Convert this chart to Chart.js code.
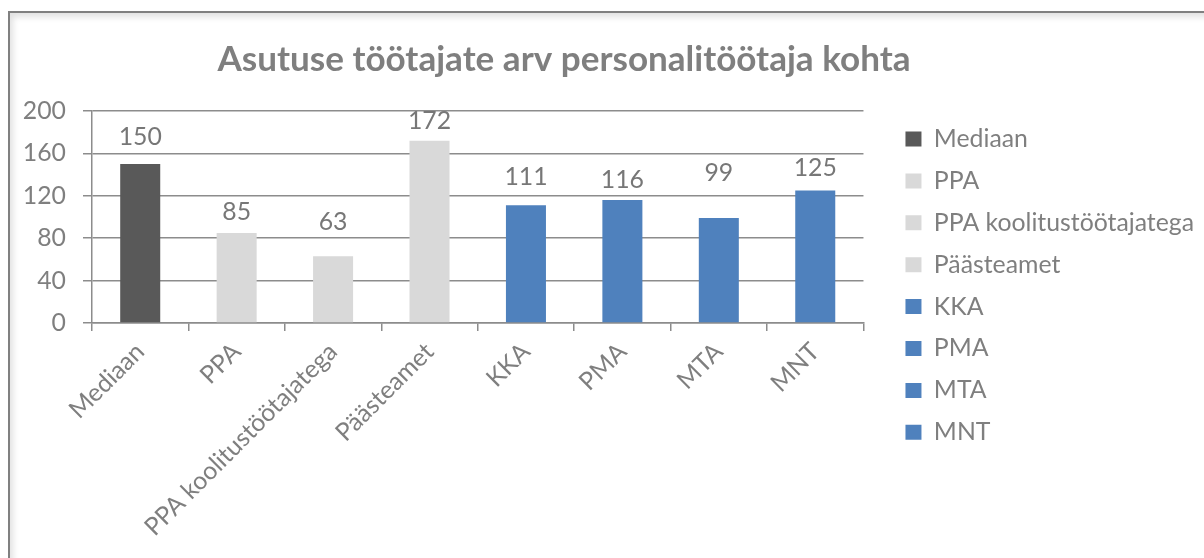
<!DOCTYPE html>
<html>
<head>
<meta charset="utf-8">
<script src="https://cdn.jsdelivr.net/npm/chart.js@4.4.1/dist/chart.umd.min.js"></script>
<style>
    html, body { margin: 0; padding: 0; background: #fff; overflow: hidden; }
    #wrap { position: relative; width: 1204px; height: 558px; }
    #frame {
        position: absolute; left: 8px; top: 11px; width: 1300px; height: 700px;
        border-top: 2px solid #808080; border-left: 2px solid #808080;
        box-shadow: inset 3px 4px 6px rgba(0, 0, 0, 0.12);
        pointer-events: none;
    }
</style>
</head>
<body>
<div id="wrap">
    <canvas id="chart" width="1204" height="558"></canvas>
    <div id="frame"></div>
</div>
<script>
// Andmed
const categories = ["Mediaan", "PPA", "PPA koolitustöötajatega", "Päästeamet", "KKA", "PMA", "MTA", "MNT"];
const values = [150, 85, 63, 172, 111, 116, 99, 125];
const barColors = ["#595959", "#d9d9d9", "#d9d9d9", "#d9d9d9", "#4f81bd", "#4f81bd", "#4f81bd", "#4f81bd"];
const yTicks = [0, 40, 80, 120, 160, 200];
const chartTitle = "Asutuse töötajate arv personalitöötaja kohta";

const FONT = "Lato, 'Open Sans', sans-serif";
const textColor = "#7f7f7f";
const axisColor = "#8c8c8c";

// fondi suurus nii, et tekst saaks antud laiuse (Calibri asemel)
function measure(text, weight, size) {
    const c = document.createElement("canvas").getContext("2d");
    c.font = weight + " " + size + "px " + FONT;
    return c.measureText(text).width;
}
const labelSize = Math.round((1000 * 260) / measure("PPA koolitustöötajatega", "normal", 100)) / 10;
const titleSize = Math.round((1000 * 693) / measure(chartTitle, "bold", 100)) / 10;

// legend: kastid x=904, read 42px vahega, esimene y=139
const legendX = 904;
const legendStep = 41.9;
const legendPad = legendStep - labelSize;
const padTop = Math.max(0, 2 * 139 - 558 + 7 * legendStep);
const longest = Math.max(...categories.map((c) => measure(c, "normal", labelSize)));
const padRight = Math.max(0, Math.floor(1204 - legendX - 16 - labelSize / 2 - longest - 10) - 1);
const padLeft = padRight - 76; // pealkirja keskkoht x=564

const titleTop = 60 - 0.6 * titleSize - padTop;
const titleBottom = 111 - padTop - titleTop - 1.2 * titleSize;

// Väärtused tulpade kohal
const barValueLabels = {
    id: "barValueLabels",
    afterDatasetsDraw(chart, args, opts) {
        const ctx = chart.ctx;
        const meta = chart.getDatasetMeta(0);
        ctx.save();
        ctx.font = labelSize + "px " + FONT;
        ctx.fillStyle = "#777777";
        ctx.textAlign = "center";
        ctx.textBaseline = "middle";
        meta.data.forEach((bar, i) => {
            ctx.fillText(values[i], bar.x, bar.y - opts.lift[i]);
        });
        ctx.restore();
    },
};

new Chart(document.getElementById("chart").getContext("2d"), {
    type: "bar",
    data: {
        labels: categories,
        datasets: [
            {
                data: values,
                backgroundColor: barColors,
                barPercentage: 0.415,
                categoryPercentage: 1,
            },
        ],
    },
    options: {
        responsive: false,
        animation: false,
        layout: { padding: { left: padLeft, right: padRight, top: padTop, bottom: 0 } },
        plugins: {
            title: {
                display: true,
                text: chartTitle,
                color: textColor,
                font: { family: FONT, size: titleSize, weight: "bold" },
                padding: { top: titleTop, bottom: titleBottom },
            },
            legend: {
                position: "right",
                align: "center",
                maxWidth: 420,
                labels: {
                    boxWidth: 16,
                    boxHeight: 15,
                    padding: legendPad,
                    color: textColor,
                    font: { family: FONT, size: labelSize },
                    generateLabels: () =>
                        categories.map((c, i) => ({
                            text: c,
                            fillStyle: barColors[i],
                            strokeStyle: barColors[i],
                            fontColor: textColor,
                            lineWidth: 0,
                            index: i,
                        })),
                },
                onClick: null,
            },
            tooltip: { enabled: false },
            barValueLabels: { lift: [27, 21, 34, 20, 28, 20, 45, 22] },
        },
        scales: {
            x: {
                grid: {
                    drawOnChartArea: false,
                    drawTicks: true,
                    tickLength: 8,
                    color: axisColor,
                    lineWidth: 1.5,
                    offset: true,
                },
                border: { color: axisColor, width: 1.5 },
                ticks: {
                    color: textColor,
                    font: { family: FONT, size: labelSize },
                    minRotation: 45,
                    maxRotation: 45,
                    autoSkip: false,
                    padding: 6,
                },
                afterFit(scale) {
                    scale.height = 235;
                },
            },
            y: {
                min: yTicks[0],
                max: yTicks[yTicks.length - 1],
                ticks: {
                    stepSize: yTicks[1] - yTicks[0],
                    color: textColor,
                    font: { family: FONT, size: labelSize },
                    padding: 17,
                },
                grid: { color: axisColor, lineWidth: 1.5, tickLength: 9 },
                border: { color: axisColor, width: 1.5 },
                afterFit(scale) {
                    scale.width = 92 - padLeft;
                },
            },
            // tühi telg: vahe joonise ja legendi vahel
            yR: {
                position: "right",
                grid: { display: false },
                border: { display: false },
                ticks: { display: false },
                afterFit(scale) {
                    scale.width = legendX - legendPad - 862;
                },
            },
        },
    },
    plugins: [barValueLabels],
});
</script>
</body>
</html>
